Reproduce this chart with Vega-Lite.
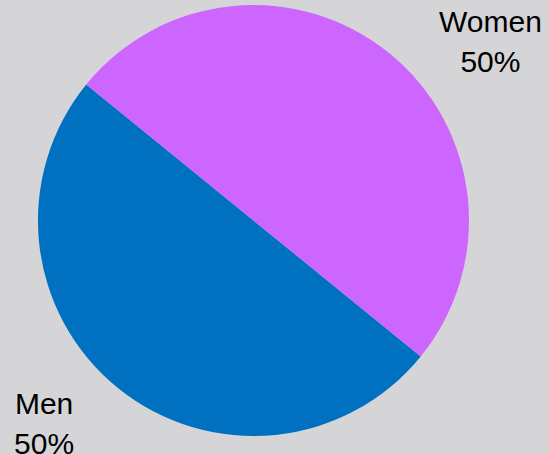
{
  "$schema": "https://vega.github.io/schema/vega-lite/v6.json",
  "width": 507,
  "height": 441,
  "autosize": "none",
  "padding": {"left": 0, "top": 0, "right": 42, "bottom": 13},
  "background": "#d5d5d7",
  "config": {"view": {"stroke": null}},
  "data": {"values": [
    {"category": "Men", "share": 50},
    {"category": "Women", "share": 50}
  ]},
  "transform": [
    {"calculate": "datum.category + '\\n' + format(datum.share / 100, '.0%')", "as": "label"}
  ],
  "layer": [
    {
      "mark": {"type": "arc", "radius": 215.5},
      "encoding": {
        "theta": {"field": "share", "type": "quantitative", "stack": true, "scale": {"range": [2.2532, 8.5364]}},
        "order": {"field": "category", "type": "nominal", "sort": "ascending"},
        "color": {"field": "category", "type": "nominal", "legend": null,
          "scale": {"domain": ["Men", "Women"], "range": ["#0070c0", "#cc66ff"]}}
      }
    },
    {
      "mark": {"type": "text", "radius": 293.6, "dx": 13.75, "dy": -6.25, "font": "Liberation Sans", "fontSize": 30, "lineHeight": 40, "lineBreak": "\n", "align": "center", "baseline": "middle", "color": "#000000"},
      "encoding": {
        "theta": {"field": "share", "type": "quantitative", "stack": true, "scale": {"range": [2.4342, 8.7174]}},
        "order": {"field": "category", "type": "nominal", "sort": "ascending"},
        "text": {"field": "label", "type": "nominal"}
      }
    }
  ],
  "resolve": {"scale": {"theta": "independent"}}
}
